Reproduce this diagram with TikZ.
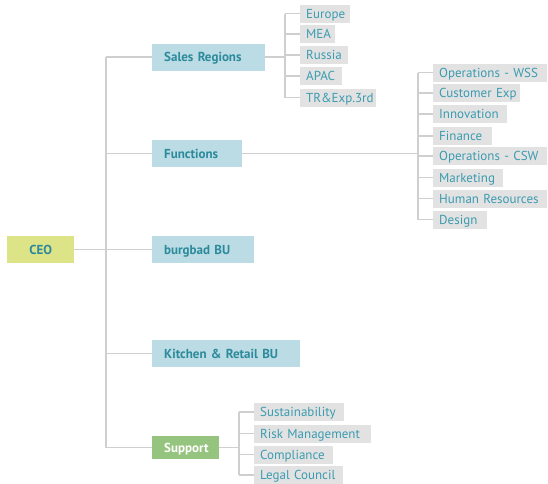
\documentclass[tikz,border=0pt]{standalone}
\usepackage{fontspec}
\setmainfont{PT Sans}
\definecolor{ceofill}{HTML}{DDE387}
\definecolor{unitfill}{HTML}{BBDCE4}
\definecolor{suppfill}{HTML}{94C47E}
\definecolor{leaffill}{HTML}{E2E2E2}
\definecolor{headtext}{HTML}{2C8A9C}
\definecolor{leaftext}{HTML}{3B9BB0}
\definecolor{linecol}{HTML}{CFCFCF}
\tikzset{
  conn/.style={draw=linecol, line width=1.4pt},
  unit/.style={fill=unitfill, anchor=west, minimum height=27pt, inner xsep=12pt, inner ysep=0pt,
    text height=9pt, text depth=0pt, align=left, font=\fontsize{13}{15}\selectfont\bfseries, text=headtext},
  leaf/.style={fill=leaffill, anchor=west, minimum height=18pt, inner xsep=6pt, inner ysep=0pt,
    text height=9pt, text depth=0pt, align=left, font=\fontsize{13}{15}\selectfont, text=leaftext},
}
\begin{document}
\begin{tikzpicture}[x=1pt, y=-1pt]
\useasboundingbox (0,0) rectangle (548,483);

% top level
\node[unit, fill=ceofill, text width=43pt, align=center] (ceo) at (7,249.5) {CEO};
\node[unit, text width=89pt] (sales) at (152,57) {\mbox{Sales Regions}};
\node[unit, text width=66pt] (func) at (152,153.5) {Functions};
\node[unit, text width=78pt] (burg) at (152,249.5) {\mbox{burgbad BU}};
\node[unit, text width=124pt] (kitchen) at (152,353.5) {\mbox{Kitchen \& Retail BU}};
\node[unit, fill=suppfill, text=white, minimum height=23pt, text width=43pt] (support) at (152,447.5) {Support};

% sales regions
\node[leaf, text width=38pt] (eu) at (300,13.5) {Europe};
\node[leaf, text width=23pt] (mea) at (300,34) {MEA};
\node[leaf, text width=36pt] (ru) at (300,55) {Russia};
\node[leaf, text width=30pt] (apac) at (300,76) {APAC};
\node[leaf, text width=64pt] (trexp) at (300,97.5) {TR\&Exp.3rd};

% functions
\node[leaf, text width=102pt] (opw) at (433,72.5) {\mbox{Operations - WSS}};
\node[leaf, text width=75pt] (cx) at (433,93) {\mbox{Customer Exp}};
\node[leaf, text width=62pt] (inno) at (433,114) {Innovation};
\node[leaf, text width=47pt] (fin) at (433,136) {Finance};
\node[leaf, text width=102pt] (opc) at (433,156) {\mbox{Operations - CSW}};
\node[leaf, text width=58pt] (mkt) at (433,177.5) {Marketing};
\node[leaf, text width=102pt] (hr) at (433,198.5) {\mbox{Human Resources}};
\node[leaf, text width=42pt] (des) at (433,219.5) {Design};

% support
\node[leaf, text width=78pt] (sus) at (254,412) {Sustainability};
\node[leaf, text width=105pt] (risk) at (254,433.5) {\mbox{Risk Management}};
\node[leaf, text width=67pt] (comp) at (254,454.5) {Compliance};
\node[leaf, text width=77pt] (legal) at (254,475) {\mbox{Legal Council}};

% branch columns
\coordinate (trunk) at (106,0);
\coordinate (srcol) at (285,0);
\coordinate (fncol) at (418,0);
\coordinate (spcol) at (239,0);

% CEO to units
\draw[conn] (ceo.east) -- (ceo.east -| trunk);
\draw[conn] (trunk |- sales.west) -- (trunk |- support.west);
\foreach \n in {sales,func,burg,kitchen,support}
  \draw[conn] (trunk |- \n.west) -- (\n.west);

% sales regions branch
\draw[conn] (sales.east) -- (sales.east -| srcol);
\draw[conn] (srcol |- eu.west) -- (srcol |- trexp.west);
\foreach \n in {eu,mea,ru,apac,trexp}
  \draw[conn] (srcol |- \n.west) -- (\n.west);

% functions branch
\draw[conn] (func.east) -- (func.east -| fncol);
\draw[conn] (fncol |- opw.west) -- (fncol |- des.west);
\foreach \n in {opw,cx,inno,fin,opc,mkt,hr,des}
  \draw[conn] (fncol |- \n.west) -- (\n.west);

% support branch
\draw[conn] (support.east) -- (support.east -| spcol);
\draw[conn] (spcol |- sus.west) -- (spcol |- legal.west);
\foreach \n in {sus,risk,comp,legal}
  \draw[conn] (spcol |- \n.west) -- (\n.west);
\end{tikzpicture}
\end{document}
